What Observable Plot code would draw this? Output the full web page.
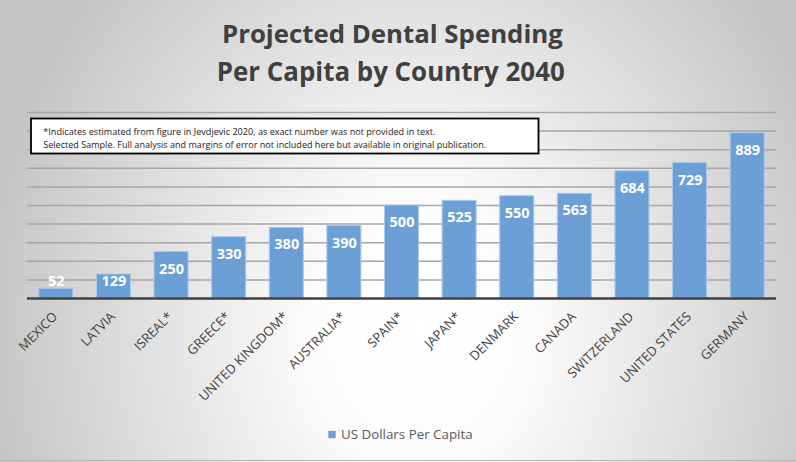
<!DOCTYPE html>
<html><head><meta charset="utf-8">
<script src="https://cdn.jsdelivr.net/npm/d3@7"></script>
<script src="https://cdn.jsdelivr.net/npm/@observablehq/plot@0.6"></script>
<style>body{margin:0;background:#fff;} #chart{width:796px;height:462px;}</style>
</head><body><div id="chart"></div>
<script>
const countries = ["MEXICO","LATVIA","ISREAL*","GREECE*","UNITED KINGDOM*","AUSTRALIA*","SPAIN*","JAPAN*","DENMARK","CANADA","SWITZERLAND","UNITED STATES","GERMANY"];
const values = [52,129,250,330,380,390,500,525,550,563,684,729,889];
const gridTicks = [100,200,300,400,500,600,700,800,900,1000];
const titleLines = ["Projected Dental Spending","Per Capita by Country 2040"];
const noteLines = [
  "*Indicates estimated from figure in Jevdjevic 2020, as exact number was not provided in text.",
  "Selected Sample. Full analysis and margins of error not included here but available in original publication."
];
const seriesName = "US Dollars Per Capita";
const data = countries.map((c, i) => ({country: c, value: values[i]}));

const plot = Plot.plot({
  width: 796, height: 462,
  marginLeft: 27, marginRight: 20, marginTop: 112, marginBottom: 164,
  style: {background: "transparent", fontFamily: "'Open Sans', sans-serif", overflow: "visible"},
  x: {domain: countries, paddingInner: 0.41, paddingOuter: 0.205, round: false, label: null},
  y: {domain: [0, 1000], axis: null},
  marks: [
    Plot.ruleY(gridTicks, {stroke: "#a6a6a6", strokeWidth: 1.5}),
    Plot.barY(data, {x: "country", y: "value", fill: "#6b9fd6", stroke: "#a9c9ea", strokeWidth: 1}),
    Plot.ruleY([0], {stroke: "#404040", strokeWidth: 2.5}),
    Plot.text(data, {x: "country", y: d => Math.max(d.value, 183), dy: 17, text: d => String(d.value),
      fill: "white", fontWeight: "bold", fontSize: 14.5}),
    Plot.axisX({tickRotate: -45, tickSize: 0, tickPadding: 12, dx: -1, dy: 4, fontSize: 13, fill: "#404040", label: null})
  ]
});
document.getElementById("chart").appendChild(plot);

const svg = d3.select(plot);
const defs = svg.insert("defs", ":first-child");
const grad = defs.append("radialGradient").attr("id", "bg")
  .attr("gradientUnits", "userSpaceOnUse").attr("cx", 420).attr("cy", 330).attr("r", 440)
  .attr("gradientTransform", "translate(420,330) scale(1,1.18) translate(-420,-330)");
grad.append("stop").attr("offset", 0).attr("stop-color", "#ffffff");
grad.append("stop").attr("offset", 0.25).attr("stop-color", "#fcfcfc");
grad.append("stop").attr("offset", 0.6).attr("stop-color", "#e2e2e2");
grad.append("stop").attr("offset", 1).attr("stop-color", "#c4c4c4");
svg.insert("rect", "defs + *").attr("x", 0).attr("y", 0).attr("width", 796).attr("height", 462).attr("fill", "url(#bg)");
svg.append("line").attr("x1", 0).attr("x2", 796).attr("y1", 460.5).attr("y2", 460.5).attr("stroke", "#b5b5b5");

// fit a text's font size so its width matches the reference width
function fit(sel, width) {
  const node = sel.node();
  const base = +sel.attr("font-size");
  const w = node.getComputedTextLength();
  if (w > 0) sel.attr("font-size", (base * width / w).toFixed(2));
  return sel;
}

const title = svg.append("g").attr("font-family", "'Open Sans', sans-serif").attr("font-weight", "bold")
  .attr("fill", "#404040").attr("text-anchor", "middle");
fit(title.append("text").attr("x", 392.4).attr("y", 43.3).attr("font-size", 26).text(titleLines[0]), 341);
fit(title.append("text").attr("x", 390.8).attr("y", 80.7).attr("font-size", 26).text(titleLines[1]), 348);

const note = svg.append("g").attr("font-family", "'Open Sans', sans-serif").attr("fill", "#1a1a1a").attr("text-anchor", "start");
note.append("rect").attr("x", 31).attr("y", 118.5).attr("width", 507.5).attr("height", 35)
  .attr("fill", "white").attr("stroke", "#000").attr("stroke-width", 1.8);
fit(note.append("text").attr("x", 43.3).attr("y", 135).attr("font-size", 9.5).text(noteLines[0]), 393);
fit(note.append("text").attr("x", 43.3).attr("y", 148.3).attr("font-size", 9.5).text(noteLines[1]), 443);

const legend = svg.append("g").attr("font-family", "'Open Sans', sans-serif").attr("text-anchor", "start");
legend.append("rect").attr("x", 328.3).attr("y", 430.8).attr("width", 7.4).attr("height", 7.4).attr("fill", "#6b9fd6");
fit(legend.append("text").attr("x", 341).attr("y", 439.3).attr("font-size", 13).attr("fill", "#595959").text(seriesName), 131.7);
</script></body></html>
